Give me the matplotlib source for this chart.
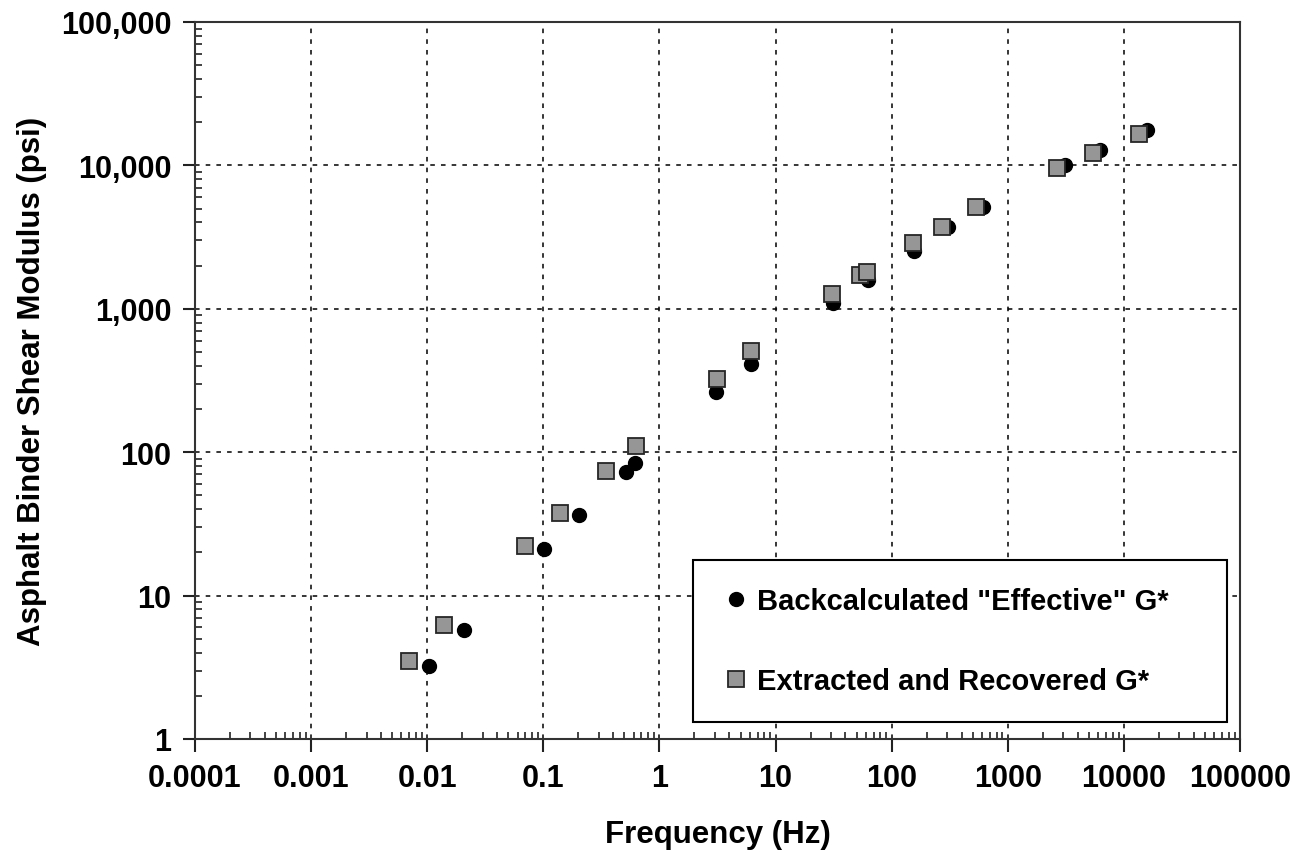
import matplotlib
matplotlib.use("Agg")
import matplotlib.pyplot as plt
from matplotlib.ticker import FixedLocator, FixedFormatter, LogLocator, NullFormatter

plt.rcParams['font.family'] = ['Liberation Sans', 'DejaVu Sans']
plt.rcParams['font.weight'] = 'bold'

# Data
back_freq = [0.0104, 0.0208, 0.102, 0.204, 0.515, 0.62, 3.1, 6.2, 31, 62, 155, 308, 617, 3120, 6240, 15740]
back_g = [3.22, 5.8, 21.2, 36.3, 72.8, 84.2, 265, 415, 1090, 1580, 2550, 3740, 5100, 10090, 12830, 17530]

ext_freq = [0.0069, 0.014, 0.069, 0.139, 0.349, 0.625, 3.11, 6.15, 30.9, 53.4, 61.8, 154, 270, 533, 2673, 5395, 13430]
ext_g = [3.5, 6.25, 22.3, 37.4, 73.6, 110, 326, 507, 1267, 1719, 1815, 2863, 3743, 5106, 9556, 12170, 16510]

x_ticks = [0.0001, 0.001, 0.01, 0.1, 1, 10, 100, 1000, 10000, 100000]
x_labels = ["0.0001", "0.001", "0.01", "0.1", "1", "10", "100", "1000", "10000", "100000"]
y_ticks = [1, 10, 100, 1000, 10000, 100000]
y_labels = ["1", "10", "100", "1,000", "10,000", "100,000"]

label_back = 'Backcalculated "Effective" G*'
label_ext = 'Extracted and Recovered G*'

fig = plt.figure(figsize=(12.95, 8.54), dpi=100)
ax = fig.add_axes([195/1295, 1-740/854, 1045/1295, 717/854])

ax.plot(back_freq, back_g, linestyle='none', marker='o', markersize=10,
        markerfacecolor='black', markeredgecolor='black', label=label_back, zorder=3)
ax.plot(ext_freq, ext_g, linestyle='none', marker='s', markersize=11.5,
        markerfacecolor='#969696', markeredgecolor='#262626', markeredgewidth=1.3,
        label=label_ext, zorder=4)

ax.set_xscale('log')
ax.set_yscale('log')
ax.set_xlim(1e-4, 1e5)
ax.set_ylim(1, 1e5)

ax.xaxis.set_major_locator(FixedLocator(x_ticks))
ax.xaxis.set_major_formatter(FixedFormatter(x_labels))
ax.yaxis.set_major_locator(FixedLocator(y_ticks))
ax.yaxis.set_major_formatter(FixedFormatter(y_labels))
ax.xaxis.set_minor_locator(LogLocator(base=10, subs=range(2, 10), numticks=20))
ax.yaxis.set_minor_locator(LogLocator(base=10, subs=range(2, 10), numticks=20))
ax.xaxis.set_minor_formatter(NullFormatter())
ax.yaxis.set_minor_formatter(NullFormatter())

ax.tick_params(which='major', direction='out', length=9, width=1.5, labelsize=22, pad=8, color='#222222')
ax.tick_params(which='minor', direction='in', length=5, width=1.2, color='#222222')
for lab in ax.get_xticklabels() + ax.get_yticklabels():
    lab.set_fontweight('bold')

ax.grid(True, which='major', linestyle=(0, (3, 4)), color='black', linewidth=1.1)
ax.set_axisbelow(True)

for sp in ax.spines.values():
    sp.set_linewidth(1.5)
    sp.set_color('#333333')

ax.set_xlabel('Frequency (Hz)', fontsize=22.5, fontweight='bold', labelpad=19)
ax.set_ylabel('Asphalt Binder Shear Modulus (psi)', fontsize=22.5, fontweight='bold', labelpad=10)

leg = ax.legend(loc='lower left', bbox_to_anchor=(0.4766, 0.0237, 0.511, 0.226), mode='expand',
                borderaxespad=0, fancybox=False, frameon=True, edgecolor='black',
                prop={'weight': 'bold', 'size': 21}, handletextpad=0.17, labelspacing=1.78,
                borderpad=0.92, handlelength=1.1, markerscale=1.0)
leg.get_frame().set_linewidth(1.5)
leg.get_frame().set_alpha(1)

fig.savefig('out.png', dpi=100)
